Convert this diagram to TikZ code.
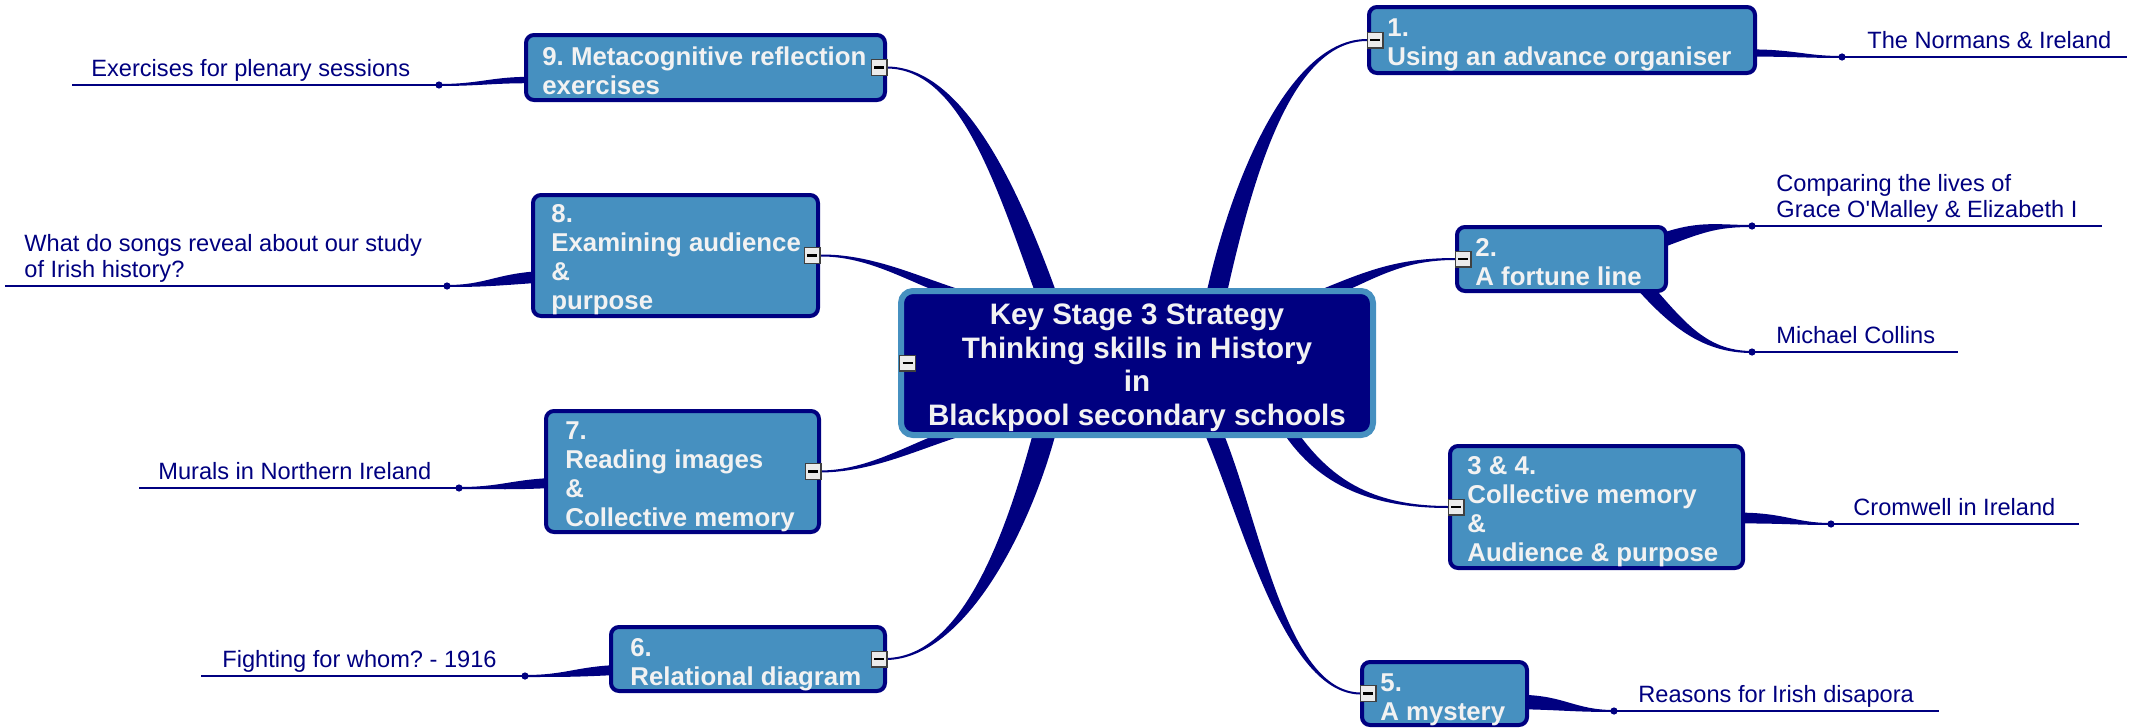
\documentclass[tikz,border=0pt]{standalone}
\usepackage{fontspec}
\setmainfont{Liberation Sans}
\usetikzlibrary{calc,backgrounds}
\definecolor{navy}{HTML}{000080}
\definecolor{boxblue}{HTML}{4690C0}
\definecolor{txtwhite}{HTML}{F2F2F2}
\frenchspacing
\newcommand\straightquote{\XeTeXglyph\XeTeXcharglyph"27 }
% tapered branch: #1 start, #2 control 1, #3 control 2, #4 end, #5 half width at start, #6 half width at end
\newcommand\mmtaper[6]{\fill[navy] ($(#1)!#5!90:(#2)$) .. controls ($(#2)!#5!-90:(#1)$) and ($(#3)!#6!90:(#4)$) .. ($(#4)!#6!-90:(#3)$) -- ($(#4)!#6!90:(#3)$) .. controls ($(#3)!#6!-90:(#4)$) and ($(#2)!#5!90:(#1)$) .. ($(#1)!#5!-90:(#2)$) -- cycle;}
\tikzset{
  subbox/.style={draw=navy, line width=2pt, fill=boxblue, rounded corners=4pt, inner sep=0pt},
  centerbox/.style={draw=boxblue, line width=3pt, fill=navy, rounded corners=6pt, inner sep=0pt, minimum width=236pt, minimum height=72pt},
  centertext/.style={text=txtwhite, font=\bfseries\fontsize{14.8}{16.7}\selectfont, align=center, inner sep=0pt, anchor=base},
  boxtext/.style={text=txtwhite, font=\frenchspacing\bfseries\fontsize{12.9}{14.5}\selectfont, align=left, inner sep=0pt, anchor=base west},
  leaf/.style={text=navy, font=\frenchspacing\fontsize{11.8}{13}\selectfont, align=left, inner sep=0pt, anchor=base west},
  leafline/.style={draw=navy, line width=1pt},
  leafdot/.style={circle, fill=navy, inner sep=0pt, minimum size=3.6pt},
  togglebox/.style={draw=black!75, fill=black!8, line width=0.7pt, minimum size=7.8pt, inner sep=0pt,
    path picture={\draw[black, line width=1.3pt] ([xshift=-2.5pt]path picture bounding box.center) -- ([xshift=2.5pt]path picture bounding box.center);}},
}
\begin{document}
\begin{tikzpicture}[x=0.5pt,y=-0.5pt]
\useasboundingbox (0,0) rectangle (2138,728);

% ---- central topic
\node[centerbox] (ctr) at (1137,363) {};
\node[centertext] (ctrt) at (1137,425) {Key Stage 3 Strategy\\Thinking skills in History\\in\\Blackpool secondary schools};
\node[togglebox] (ictr) at ([xshift=4.75pt]ctr.west) {};

% ---- main topics
\node[subbox, minimum width=179.5pt, minimum height=32.5pt] (b9) at (705.5,67.5) {};
\node[subbox, minimum width=142.5pt, minimum height=60.5pt] (b8) at (675.5,255.5) {};
\node[subbox, minimum width=136.5pt, minimum height=60.5pt] (b7) at (682.5,471.5) {};
\node[subbox, minimum width=137pt, minimum height=32pt] (b6) at (748,659) {};
\node[subbox, minimum width=193pt, minimum height=33pt] (b1) at (1562,40) {};
\node[subbox, minimum width=104.5pt, minimum height=32pt] (b2) at (1561.5,259) {};
\node[subbox, minimum width=146.5pt, minimum height=61pt] (b34) at (1596.5,507) {};
\node[subbox, minimum width=82.5pt, minimum height=31.5pt] (b5) at (1444.5,693.5) {};

% text nodes: the base anchor sits on the last line
\node[boxtext] (b9t) at (542,94) {9. Metacognitive reflection\\exercises};
\node[boxtext] (b8t) at (551,309) {8.\\Examining audience\\\&\\purpose};
\node[boxtext] (b7t) at (565,526) {7.\\Reading images\\\&\\Collective memory};
\node[boxtext] (b6t) at (630,685) {6.\\Relational diagram};
\node[boxtext] (b1t) at (1387,65) {1.\\Using an advance organiser};
\node[boxtext] (b2t) at (1475,285) {2.\\A fortune line};
\node[boxtext] (b34t) at (1467,561) {3 \& 4.\\Collective memory\\\&\\Audience \& purpose};
\node[boxtext] (b5t) at (1380,720) {5.\\A mystery};

\node[togglebox] (i9) at ([xshift=-4pt]b9.east) {};
\node[togglebox] (i8) at ([xshift=-4pt]b8.east) {};
\node[togglebox] (i7) at ([xshift=-4pt]b7.east) {};
\node[togglebox] (i6) at ([xshift=-4pt]b6.east) {};
\node[togglebox] (i1) at ([xshift=4pt]b1.west) {};
\node[togglebox] (i2) at ([xshift=4pt]b2.west) {};
\node[togglebox] (i34) at ([xshift=4pt]b34.west) {};
\node[togglebox] (i5) at ([xshift=4pt]b5.west) {};

% ---- leaves
\node[leafdot] (d1) at (1842,57) {};
\node[leafdot] (d2) at (1752,226) {};
\node[leafdot] (d3) at (1752,352) {};
\node[leafdot] (d4) at (1831,524) {};
\node[leafdot] (d5) at (1614,711) {};
\node[leafdot] (d6) at (439,85) {};
\node[leafdot] (d7) at (447,286) {};
\node[leafdot] (d8) at (459,488) {};
\node[leafdot] (d9) at (525,676) {};
\coordinate (e1) at (2127,57);
\coordinate (e2) at (2102,226);
\coordinate (e3) at (1958,352);
\coordinate (e4) at (2079,524);
\coordinate (e5) at (1939,711);
\coordinate (e6) at (72,85);
\coordinate (e7) at (5,286);
\coordinate (e8) at (139,488);
\coordinate (e9) at (201,676);
\draw[leafline] (d1.center) -- (e1);
\draw[leafline] (d2.center) -- (e2);
\draw[leafline] (d3.center) -- (e3);
\draw[leafline] (d4.center) -- (e4);
\draw[leafline] (d5.center) -- (e5);
\draw[leafline] (d6.center) -- (e6);
\draw[leafline] (d7.center) -- (e7);
\draw[leafline] (d8.center) -- (e8);
\draw[leafline] (d9.center) -- (e9);

\node[leaf] (t1) at (1867,48) {The Normans \& Ireland};
\node[leaf] (t2) at (1776,217) {Comparing the lives of\\Grace O\straightquote Malley \& Elizabeth I};
\node[leaf] (t3) at (1776,343) {Michael Collins};
\node[leaf] (t4) at (1853,515) {Cromwell in Ireland};
\node[leaf] (t5) at (1638,702) {Reasons for Irish disapora};
\node[leaf] (t6) at (91,76) {Exercises for plenary sessions};
\node[leaf] (t7) at (24,277) {What do songs reveal about our study\\of Irish history?};
\node[leaf] (t8) at (158,479) {Murals in Northern Ireland};
\node[leaf] (t9) at (222,667) {Fighting for whom? - 1916};

% ---- branches (behind the boxes)
\begin{pgfonlayer}{background}
\coordinate (c9) at (1047,296);
\coordinate (c8) at (955,293);
\coordinate (c7) at (955,433);
\coordinate (c6) at (1045,431);
\coordinate (c1) at (1216,296);
\coordinate (c2) at (1325,294);
\coordinate (c34) at (1290,432);
\coordinate (c5) at (1213,431);
\mmtaper{c9}{1005,180}{960,68}{b9.east}{5pt}{0.5pt}
\mmtaper{c8}{912,279}{870,255}{b8.east}{2.4pt}{0.5pt}
\mmtaper{c7}{912,447}{870,471}{b7.east}{2.4pt}{0.5pt}
\mmtaper{c6}{1019,528}{965,657}{b6.east}{5.5pt}{0.5pt}
\mmtaper{c1}{1242,179}{1290,40}{b1.west}{5pt}{0.5pt}
\mmtaper{c2}{1371,275}{1400,259}{b2.west}{2.8pt}{0.5pt}
\mmtaper{c34}{1324,481}{1370,507}{b34.west}{3pt}{0.5pt}
\mmtaper{c5}{1252,523}{1285,692}{b5.west}{4.4pt}{0.5pt}
% sub-branches
\coordinate (s1) at (1750,53);
\coordinate (s2) at (1655,243);
\coordinate (s3) at (1640,282);
\coordinate (s4) at (1738,518);
\coordinate (s5) at (1522,702);
\coordinate (s6) at (531,80);
\coordinate (s7) at (538,277);
\coordinate (s8) at (551,483);
\coordinate (s9) at (616,670);
\mmtaper{s1}{1795,53}{1805,57}{d1.center}{1.8pt}{0.5pt}
\mmtaper{s2}{1700,226}{1715,226}{d2.center}{3.5pt}{0.5pt}
\mmtaper{s3}{1678,325}{1705,352}{d3.center}{3.5pt}{0.5pt}
\mmtaper{s4}{1785,518}{1795,524}{d4.center}{2.7pt}{0.5pt}
\mmtaper{s5}{1565,703}{1575,711}{d5.center}{3.6pt}{0.5pt}
\mmtaper{s6}{490,80}{480,85}{d6.center}{1.6pt}{0.5pt}
\mmtaper{s7}{495,280}{485,286}{d7.center}{2.9pt}{0.5pt}
\mmtaper{s8}{510,485}{500,488}{d8.center}{2.5pt}{0.5pt}
\mmtaper{s9}{575,672}{565,676}{d9.center}{2.5pt}{0.5pt}
\end{pgfonlayer}
\end{tikzpicture}
\end{document}
